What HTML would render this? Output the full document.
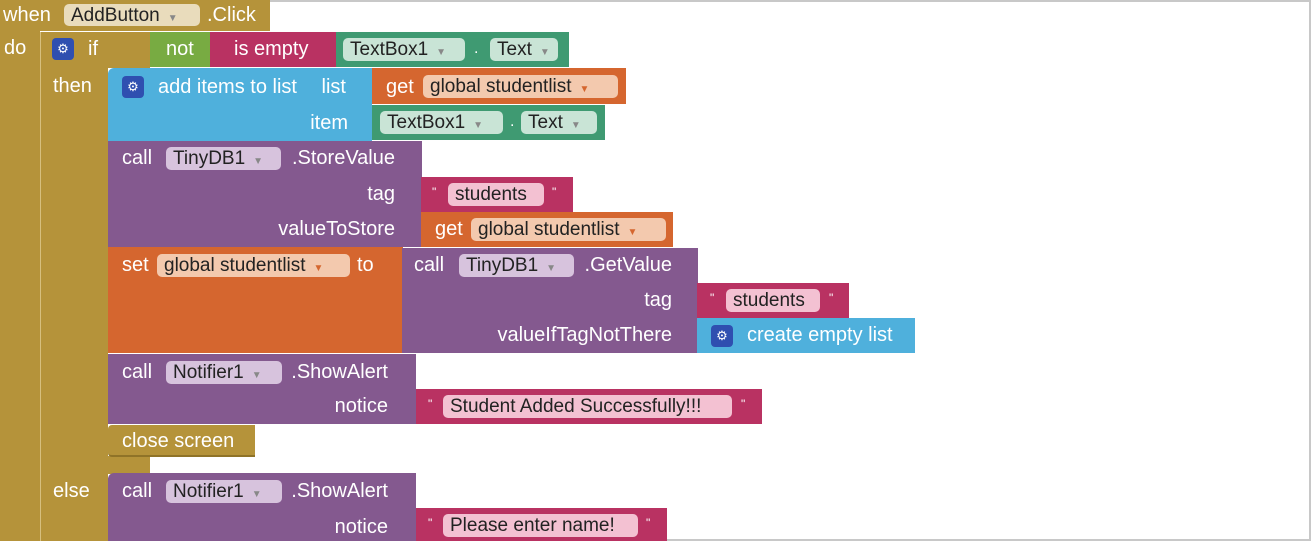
<!DOCTYPE html>
<html><head><meta charset="utf-8"><style>
body{margin:0;width:1311px;height:541px;background:#fff;position:relative;overflow:hidden;font-family:"Liberation Sans",Arial,sans-serif;}
.b{position:absolute;box-sizing:border-box;}
.t{position:absolute;color:#fff;font-size:20px;line-height:20px;white-space:nowrap;}
.r{position:absolute;color:#fff;font-size:20px;line-height:20px;white-space:nowrap;text-align:right;width:300px;}
.p{position:absolute;box-sizing:border-box;border-radius:5px;font-size:19px;line-height:23px;color:#222;padding-left:7px;white-space:nowrap;overflow:hidden;}
.gold{background:#b5933a;} .pur{background:#84598f;} .org{background:#d5662f;}
.grn{background:#78ab42;} .pink{background:#b93262;} .teal{background:#3f9a72;} .blue{background:#4fb0dc;}
.gear{position:absolute;width:22px;height:22px;border-radius:4px;background:#2f4fb0;color:#fff;font-size:13px;line-height:22px;text-align:center;}
.pt{background:#f3c9ae;} .pp{background:#d7c3dd;} .pk{background:#f3c1d2;} .ptl{background:#c9e4d6;} .pg{background:#e9dcbc;}
.ar{color:#888;font-size:10px;margin-left:8px;}
</style></head><body>
<div class="b" style="left:0;top:0;width:1311px;height:541px;border:2px solid #c8c8c8;border-left:none;"></div>
<!-- event block -->
<div class="b gold" style="left:0;top:0;width:270px;height:31px"></div>
<div class="b gold" style="left:0;top:30px;width:40px;height:511px"></div>
<div class="t" style="left:3px;top:5px">when</div>
<div class="p pg" style="left:64px;top:4px;width:136px;height:22px">AddButton<span class="ar">▼</span></div>
<div class="t" style="left:207px;top:5px">.Click</div>
<div class="t" style="left:4px;top:38px">do</div>
<!-- if block -->
<div class="b gold" style="left:40px;top:32px;width:110px;height:36px;border-left:1px solid #d6bf7e"></div>
<div class="b gold" style="left:40px;top:32px;width:68px;height:509px;border-left:1px solid #d6bf7e"></div>
<div class="b gold" style="left:108px;top:456px;width:42px;height:18px"></div>
<div class="gear" style="left:52px;top:38px">⚙</div>
<div class="t" style="left:88px;top:39px">if</div>
<div class="t" style="left:53px;top:76px">then</div>
<div class="t" style="left:53px;top:481px">else</div>
<!-- not / is empty / TextBox -->
<div class="b grn" style="left:150px;top:32px;width:62px;height:35px"></div>
<div class="t" style="left:166px;top:39px">not</div>
<div class="b pink" style="left:210px;top:32px;width:126px;height:35px"></div>
<div class="t" style="left:234px;top:39px">is empty</div>
<div class="b teal" style="left:336px;top:32px;width:233px;height:35px"></div>
<div class="p ptl" style="left:343px;top:38px;width:122px;height:23px">TextBox1<span class="ar">▼</span></div>
<div class="t" style="left:474px;top:39px;font-size:16px">.</div>
<div class="p ptl" style="left:490px;top:38px;width:68px;height:23px">Text<span class="ar">▼</span></div>
<!-- add items to list -->
<div class="b blue" style="left:108px;top:68px;width:264px;height:73px;border-radius:6px 0 0 0"></div>
<div class="gear" style="left:122px;top:76px">⚙</div>
<div class="t" style="left:158px;top:77px">add items to list</div>
<div class="r" style="left:46px;top:77px">list</div>
<div class="r" style="left:48px;top:113px">item</div>
<div class="b org" style="left:372px;top:68px;width:254px;height:36px"></div>
<div class="t" style="left:386px;top:77px">get</div>
<div class="p pt" style="left:423px;top:75px;width:195px;height:23px">global studentlist<span class="ar" style="color:#d5662f">▼</span></div>
<div class="b teal" style="left:372px;top:105px;width:233px;height:35px"></div>
<div class="p ptl" style="left:380px;top:111px;width:123px;height:23px">TextBox1<span class="ar">▼</span></div>
<div class="t" style="left:510px;top:112px;font-size:16px">.</div>
<div class="p ptl" style="left:521px;top:111px;width:76px;height:23px">Text<span class="ar">▼</span></div>
<!-- StoreValue -->
<div class="b pur" style="left:108px;top:141px;width:314px;height:106px"></div>
<div class="t" style="left:122px;top:148px">call</div>
<div class="p pp" style="left:166px;top:147px;width:115px;height:23px">TinyDB1<span class="ar">▼</span></div>
<div class="r" style="left:95px;top:148px">.StoreValue</div>
<div class="r" style="left:95px;top:184px">tag</div>
<div class="r" style="left:95px;top:219px">valueToStore</div>
<div class="b pink" style="left:421px;top:177px;width:152px;height:35px"></div>
<div class="t" style="left:432px;top:182px;font-size:12px">"</div>
<div class="p pk" style="left:448px;top:183px;width:96px;height:23px">students</div>
<div class="t" style="left:552px;top:182px;font-size:12px">"</div>
<div class="b org" style="left:421px;top:212px;width:252px;height:35px"></div>
<div class="t" style="left:435px;top:219px">get</div>
<div class="p pt" style="left:471px;top:218px;width:195px;height:23px">global studentlist<span class="ar" style="color:#d5662f">▼</span></div>
<!-- set -->
<div class="b org" style="left:108px;top:247px;width:295px;height:106px"></div>
<div class="t" style="left:122px;top:255px">set</div>
<div class="p pt" style="left:157px;top:254px;width:193px;height:23px">global studentlist<span class="ar" style="color:#d5662f">▼</span></div>
<div class="t" style="left:357px;top:255px">to</div>
<div class="b pur" style="left:402px;top:248px;width:296px;height:105px"></div>
<div class="t" style="left:414px;top:255px">call</div>
<div class="p pp" style="left:459px;top:254px;width:115px;height:23px">TinyDB1<span class="ar">▼</span></div>
<div class="r" style="left:372px;top:255px">.GetValue</div>
<div class="r" style="left:372px;top:290px">tag</div>
<div class="r" style="left:372px;top:325px">valueIfTagNotThere</div>
<div class="b pink" style="left:697px;top:283px;width:152px;height:35px"></div>
<div class="t" style="left:710px;top:288px;font-size:12px">"</div>
<div class="p pk" style="left:726px;top:289px;width:94px;height:23px">students</div>
<div class="t" style="left:829px;top:288px;font-size:12px">"</div>
<div class="b blue" style="left:697px;top:318px;width:218px;height:35px"></div>
<div class="gear" style="left:711px;top:325px">⚙</div>
<div class="t" style="left:747px;top:325px">create empty list</div>
<!-- ShowAlert 1 -->
<div class="b pur" style="left:108px;top:354px;width:308px;height:70px"></div>
<div class="t" style="left:122px;top:362px">call</div>
<div class="p pp" style="left:166px;top:361px;width:116px;height:23px">Notifier1<span class="ar">▼</span></div>
<div class="r" style="left:88px;top:362px">.ShowAlert</div>
<div class="r" style="left:88px;top:396px">notice</div>
<div class="b pink" style="left:416px;top:389px;width:346px;height:35px"></div>
<div class="t" style="left:428px;top:394px;font-size:12px">"</div>
<div class="p pk" style="left:443px;top:395px;width:289px;height:23px">Student Added Successfully!!!</div>
<div class="t" style="left:741px;top:394px;font-size:12px">"</div>
<!-- close screen -->
<div class="b gold" style="left:108px;top:425px;width:147px;height:32px;border-radius:4px 0 0 4px;border-bottom:2px solid #8f7328"></div>
<div class="t" style="left:122px;top:431px">close screen</div>
<!-- ShowAlert 2 -->
<div class="b pur" style="left:108px;top:473px;width:308px;height:68px;border-radius:6px 0 0 0"></div>
<div class="t" style="left:122px;top:481px">call</div>
<div class="p pp" style="left:166px;top:480px;width:116px;height:23px">Notifier1<span class="ar">▼</span></div>
<div class="r" style="left:88px;top:481px">.ShowAlert</div>
<div class="r" style="left:88px;top:517px">notice</div>
<div class="b pink" style="left:416px;top:508px;width:251px;height:33px"></div>
<div class="t" style="left:428px;top:513px;font-size:12px">"</div>
<div class="p pk" style="left:443px;top:514px;width:195px;height:23px">Please enter name!</div>
<div class="t" style="left:646px;top:513px;font-size:12px">"</div>
</body></html>
